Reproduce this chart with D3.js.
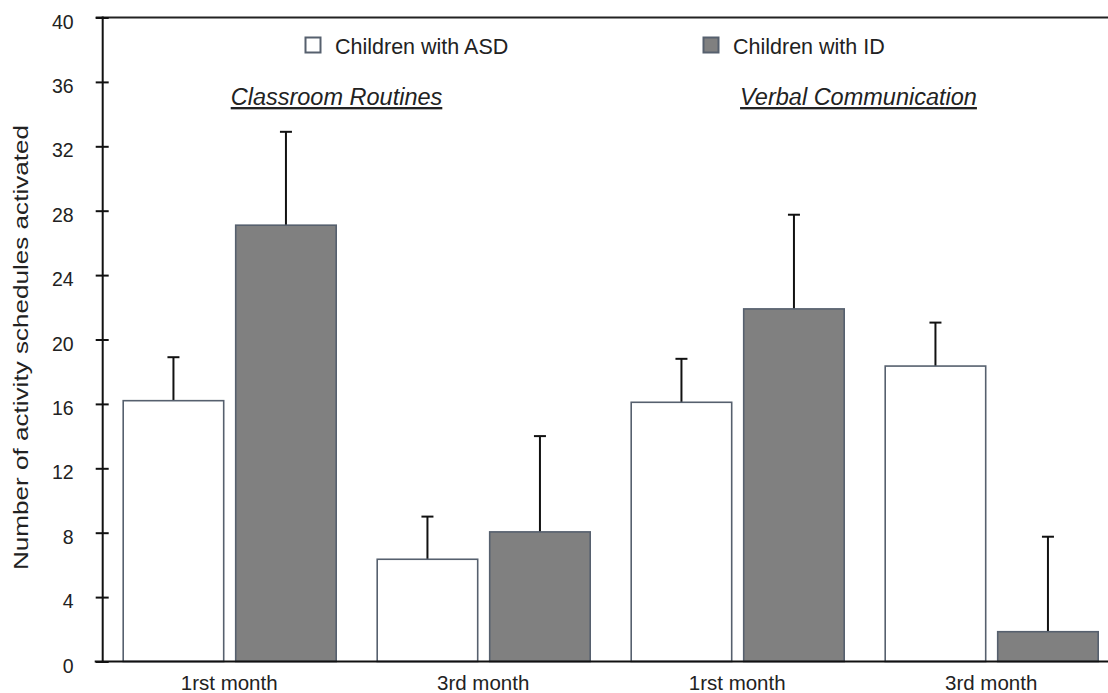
<!DOCTYPE html>
<html>
<head>
<meta charset="utf-8">
<script src="https://cdn.jsdelivr.net/npm/d3@7"></script>
<style>
  html, body { margin: 0; padding: 0; background: #fff; }
  svg { display: block; font-family: "Liberation Sans", Arial, Helvetica, sans-serif; }
</style>
</head>
<body>
<svg id="chart" width="1108" height="693"></svg>
<script>
// ---- data ----
const categories = ["1rst month", "3rd month", "1rst month", "3rd month"];
const seriesNames = ["Children with ASD", "Children with ID"];
const asdMeans = [16.2, 6.35, 16.1, 18.35];
const asdSD    = [2.7, 2.65, 2.7, 2.7];
const idMeans  = [27.1, 8.05, 21.9, 1.85];
const idSD     = [5.8, 5.95, 5.85, 5.9];
const yTicks   = [0, 4, 8, 12, 16, 20, 24, 28, 32, 36, 40];
const panelTitles = ["Classroom Routines", "Verbal Communication"];
const yTitle = "Number of activity schedules activated";

// ---- layout ----
const svg = d3.select("#chart");
const axisX = 102.7, plotTop = 17.5, plotBottom = 661.5, step = 254;
const colors = { "Children with ASD": "#ffffff", "Children with ID": "#808080" };
const barStroke = "#56606e";

const x0 = d3.scaleBand().domain(d3.range(categories.length))
  .range([axisX, axisX + step * categories.length]);
const x1 = d3.scaleBand().domain(seriesNames).range([20.5, 233.5]).paddingInner(0.1067);
const y = d3.scaleLinear().domain([0, 40]).range([plotBottom, plotTop]);

const rows = [];
categories.forEach((c, i) => {
  rows.push({ i, s: seriesNames[0], v: asdMeans[i], sd: asdSD[i] });
  rows.push({ i, s: seriesNames[1], v: idMeans[i], sd: idSD[i] });
});

// top border line
svg.append("line").attr("x1", axisX - 7).attr("x2", 1108)
  .attr("y1", y(40)).attr("y2", y(40)).attr("stroke", "#222").attr("stroke-width", 2);

// error bars (drawn under bars)
const eb = svg.append("g");
rows.forEach(d => {
  const cx = x0(d.i) + x1(d.s) + x1.bandwidth() / 2;
  eb.append("line").attr("x1", cx).attr("x2", cx).attr("y1", y(d.v)).attr("y2", y(d.v + d.sd))
    .attr("stroke", "#111").attr("stroke-width", 2);
  eb.append("line").attr("x1", cx - 6).attr("x2", cx + 6).attr("y1", y(d.v + d.sd)).attr("y2", y(d.v + d.sd))
    .attr("stroke", "#111").attr("stroke-width", 2);
});

// bars
svg.append("g").selectAll("rect").data(rows).join("rect")
  .attr("x", d => x0(d.i) + x1(d.s))
  .attr("y", d => y(d.v))
  .attr("width", x1.bandwidth())
  .attr("height", d => y(0) - y(d.v))
  .attr("fill", d => colors[d.s])
  .attr("stroke", barStroke)
  .attr("stroke-width", 1.6);

// x axis baseline
svg.append("line").attr("x1", axisX - 8).attr("x2", 1108)
  .attr("y1", y(0)).attr("y2", y(0)).attr("stroke", "#111").attr("stroke-width", 2);

// y axis
const yAxis = svg.append("g").attr("transform", `translate(${axisX},0)`)
  .call(d3.axisLeft(y).tickValues(yTicks).tickSize(7).tickSizeOuter(0).tickPadding(22));
yAxis.select(".domain").remove();
yAxis.selectAll(".tick line").attr("x1", 6).attr("stroke", "#111").attr("stroke-width", 2);
yAxis.selectAll(".tick text").attr("dy", "0.54em").attr("fill", "#222")
  .style("font-size", "19.5px");
svg.append("line").attr("x1", axisX).attr("x2", axisX).attr("y1", y(40) - 1).attr("y2", y(0) + 1)
  .attr("stroke", "#111").attr("stroke-width", 2);

// x category labels
svg.append("g").selectAll("text").data(categories).join("text")
  .attr("x", (d, i) => x0(i) + x0.bandwidth() / 2 - 0.5)
  .attr("y", 690)
  .attr("text-anchor", "middle")
  .attr("fill", "#222")
  .style("font-size", "20.5px")
  .text(d => d);

// y title
svg.append("text")
  .attr("transform", "translate(28,347.5) rotate(-90)")
  .attr("text-anchor", "middle")
  .attr("fill", "#222")
  .attr("textLength", 445)
  .attr("lengthAdjust", "spacingAndGlyphs")
  .style("font-size", "21px")
  .text(yTitle);

// legend
const legendPos = [{ x: 305.5, tx: 335 }, { x: 703.5, tx: 733 }];
seriesNames.forEach((s, k) => {
  svg.append("rect").attr("x", legendPos[k].x).attr("y", 37.5).attr("width", 15).attr("height", 15)
    .attr("fill", colors[s]).attr("stroke", barStroke).attr("stroke-width", 2);
  svg.append("text").attr("x", legendPos[k].tx).attr("y", 54)
    .attr("fill", "#222").style("font-size", "21.5px").text(s);
});

// panel titles
const panelX = [336.5, 858.5];
panelTitles.forEach((t, k) => {
  svg.append("text").attr("x", panelX[k]).attr("y", 105)
    .attr("text-anchor", "middle")
    .attr("fill", "#222")
    .style("font-size", "23.5px")
    .style("font-style", "italic")
    .style("text-decoration", "underline")
    .text(t);
});
</script>
</body>
</html>
